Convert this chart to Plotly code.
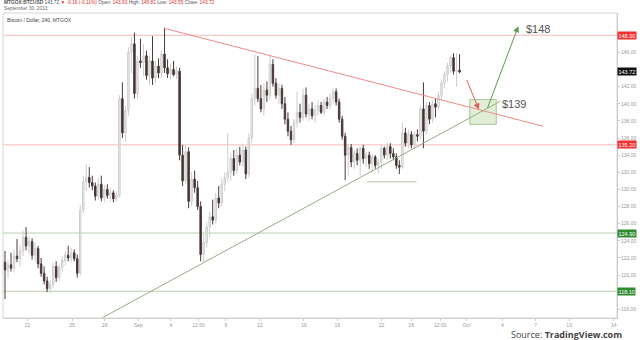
import plotly.graph_objects as go

# ---- data (4H candles, MTGOX BTCUSD) ----
opens = [121.5,120.6,121.2,120.8,122.2,121.9,122.8,124.4,123.4,123.9,122.3,123.1,121.3,120.2,119.3,118.4,118.9,121.0,119.7,120.9,
         121.7,122.3,122.0,122.6,121.9,120.2,127.6,130.9,131.4,130.8,130.4,129.2,130.6,129.0,130.0,129.3,129.6,128.9,129.3,140.6,
         136.6,139.2,146.0,147.0,141.2,145.0,144.8,145.6,143.3,145.0,143.0,144.4,143.6,145.8,144.2,143.5,144.0,143.4,143.8,134.0,
         131.0,134.4,128.6,131.2,130.2,128.0,122.4,123.8,125.6,126.8,126.4,129.0,128.4,130.6,131.4,132.0,133.6,132.2,134.0,133.2,
         134.6,131.8,136.0,140.6,141.8,140.6,139.4,141.6,141.0,144.6,142.4,141.0,141.8,140.0,138.2,136.8,135.8,137.8,139.0,138.4,
         141.0,138.8,139.4,138.6,139.2,139.8,139.0,140.2,139.8,140.6,141.4,140.2,138.2,136.2,134.0,134.9,133.2,134.2,133.4,134.8,
         133.6,134.0,133.0,133.8,132.8,133.2,134.8,134.0,135.0,134.2,133.8,132.8,132.6,136.6,135.4,136.4,135.2,136.4,136.2,139.4,
         136.8,139.8,138.2,140.0,139.6,141.0,142.4,143.4,144.4,145.4,143.8,143.93]
highs = [122.8,121.8,122.6,123.0,124.2,123.4,125.2,125.6,124.6,124.3,123.8,123.4,122.0,121.0,119.8,119.4,121.4,121.6,121.3,122.2,
         122.8,123.4,123.2,123.0,122.4,128.2,131.6,133.0,132.6,131.6,130.8,131.4,131.6,130.5,130.6,130.2,129.9,129.8,141.0,142.5,
         139.8,146.6,147.8,148.3,145.6,147.6,147.0,146.2,145.6,147.9,145.0,145.3,146.2,148.9,145.2,144.6,145.0,144.4,144.2,135.2,
         135.2,134.9,132.0,132.2,131.0,128.6,124.8,126.2,127.4,128.8,129.6,130.4,131.2,132.0,136.6,134.2,134.6,134.8,135.0,135.2,
         135.0,136.6,141.2,145.8,145.6,142.2,142.4,142.6,145.7,145.2,143.0,142.4,142.2,140.8,139.0,137.4,138.2,141.4,140.0,141.8,
         141.9,140.0,140.2,139.8,140.4,140.2,140.6,140.8,141.2,141.8,141.8,140.6,138.6,136.6,135.2,135.3,134.6,134.8,135.0,135.2,
         134.4,134.4,134.2,134.0,133.6,135.2,135.0,135.4,135.4,134.8,134.2,133.4,137.8,137.2,137.0,136.8,136.8,137.0,139.8,142.5,
         140.2,140.2,140.4,140.6,141.4,142.8,143.8,144.8,145.6,145.9,145.9,145.81]
lows = [117.2,119.6,120.4,120.3,121.5,121.0,122.2,122.9,122.5,121.8,121.5,120.8,119.8,118.9,118.0,117.9,118.5,119.2,119.3,120.4,
        121.1,121.6,121.5,121.6,119.7,119.9,127.2,129.8,130.2,129.9,128.7,128.8,128.6,128.5,128.9,128.6,128.5,128.6,129.0,136.0,
        135.6,138.6,143.6,140.6,140.6,144.2,143.2,142.8,142.2,142.2,142.4,143.0,143.0,143.6,143.0,142.8,143.2,142.9,133.4,130.4,
        130.6,127.8,128.0,129.6,127.6,121.6,121.4,123.2,124.4,125.9,126.0,127.8,128.0,129.8,130.8,131.0,131.6,131.8,132.8,132.6,
        131.2,131.4,135.4,139.8,140.2,139.0,138.6,140.2,140.4,142.0,140.6,140.0,139.4,137.6,136.2,135.2,135.4,137.2,137.8,138.0,
        138.4,138.0,138.2,137.8,138.6,138.8,138.6,139.4,139.4,139.9,139.8,137.8,135.8,131.1,131.6,132.6,132.4,132.8,131.6,133.0,
        132.6,132.4,132.0,132.4,131.8,132.4,133.6,133.4,133.6,133.4,132.4,131.8,132.4,135.0,134.8,134.8,134.8,135.6,135.8,134.8,
        136.4,137.6,137.8,138.4,139.2,140.4,141.8,142.6,143.6,143.4,142.0,143.55]
closes = [120.6,121.2,120.8,122.2,121.9,122.8,124.4,123.4,123.9,122.3,123.1,121.3,120.2,119.3,118.4,118.9,121.0,119.7,120.9,121.7,
          122.3,122.0,122.6,121.9,120.2,127.6,130.9,131.4,130.8,130.4,129.2,130.6,129.0,130.0,129.3,129.6,128.9,129.3,140.6,136.6,
          139.2,146.0,147.0,141.2,145.0,144.8,145.6,143.3,145.0,143.0,144.4,143.6,145.8,144.2,143.5,144.0,143.4,143.8,134.0,131.0,
          134.4,128.6,131.2,130.2,128.0,122.4,123.8,125.6,126.8,126.4,129.0,128.4,130.6,131.4,132.0,133.6,132.2,134.0,133.2,134.6,
          131.8,136.0,140.6,141.8,140.6,139.4,141.6,141.0,144.6,142.4,141.0,141.8,140.0,138.2,136.8,135.8,137.8,139.0,138.4,141.0,
          138.8,139.4,138.6,139.2,139.8,139.0,140.2,139.8,140.6,141.4,140.2,138.2,136.2,134.0,134.9,133.2,134.2,133.4,134.8,133.6,
          134.0,133.0,133.8,132.8,133.2,134.8,134.0,135.0,134.2,133.8,132.8,132.6,136.6,135.4,136.4,135.2,136.4,136.2,139.4,136.8,
          139.8,138.2,140.0,139.6,141.0,142.4,143.4,144.4,145.4,143.8,143.9,143.72]
bars = list(range(len(closes)))

x_tick_pos = [7.5, 22.3, 33.1, 44.3, 55.1, 64.3, 73.4, 84.6, 99.3, 110.4, 125.1, 135.0, 144.6, 153.3, 165.2, 176.3, 187.4, 202.2]
x_tick_text = ["22", "25", "28", "Sep", "4", "12:00", "9", "12", "16", "19", "22", "26", "12:00", "Oct", "4", "7", "10", "14"]
y_ticks = [116, 120, 122, 124, 126, 128, 130, 132, 134, 136, 138, 140, 142, 146]

red_levels = [148.0, 135.2]
green_levels = [124.9, 118.1]
last_price = 143.72

res_line = [(52.8, 148.82), (178.7, 137.38)]
sup_line = [(32.2, 114.98), (164.6, 140.3)]
base_line = [(120.3, 130.88), (136.7, 130.88)]
target_box = [(154.4, 137.6), (163.2, 140.5)]
red_arrow = [(153.2, 142.95), (157.4, 139.33)]
green_arrow = [(160.1, 139.33), (170.5, 149.05)]
targets = [("$148", 172.4, 148.75), ("$139", 164.5, 139.95)]

FONT = "Liberation Sans"

fig = go.Figure()
fig.add_trace(go.Candlestick(
    x=bars, open=opens, high=highs, low=lows, close=closes,
    increasing=dict(line=dict(color="#cdcdcd", width=1), fillcolor="#f0f0f0"),
    decreasing=dict(line=dict(color="#4a3a3a", width=1), fillcolor="#3e2e2e"),
    whiskerwidth=0, hoverinfo="skip"))

shapes = []
for lv in red_levels:
    shapes.append(dict(type="line", xref="paper", x0=0, x1=1, yref="y", y0=lv, y1=lv,
                       line=dict(color="#f6b9b9", width=1), layer="below"))
for lv in green_levels:
    shapes.append(dict(type="line", xref="paper", x0=0, x1=1, yref="y", y0=lv, y1=lv,
                       line=dict(color="#b9cfaa", width=1), layer="below"))
shapes.append(dict(type="line", x0=res_line[0][0], y0=res_line[0][1], x1=res_line[1][0], y1=res_line[1][1],
                   line=dict(color="#f08a8a", width=1)))
shapes.append(dict(type="line", x0=sup_line[0][0], y0=sup_line[0][1], x1=sup_line[1][0], y1=sup_line[1][1],
                   line=dict(color="#95ab85", width=1)))
shapes.append(dict(type="line", x0=base_line[0][0], y0=base_line[0][1], x1=base_line[1][0], y1=base_line[1][1],
                   line=dict(color="#b7c4ad", width=1)))
shapes.append(dict(type="rect", x0=target_box[0][0], y0=target_box[0][1], x1=target_box[1][0], y1=target_box[1][1],
                   line=dict(color="#a9c99a", width=1), fillcolor="rgba(196,224,178,0.55)", layer="below"))
shapes.append(dict(type="rect", xref="paper", yref="paper", x0=0, x1=1, y0=0, y1=1,
                   line=dict(color="#d6d6d6", width=1)))

ann = []
ann.append(dict(x=red_arrow[1][0], y=red_arrow[1][1], ax=red_arrow[0][0], ay=red_arrow[0][1],
                axref="x", ayref="y", text="", showarrow=True, arrowhead=2, arrowsize=1.2,
                arrowwidth=1, arrowcolor="#ee5a5a"))
ann.append(dict(x=green_arrow[1][0], y=green_arrow[1][1], ax=green_arrow[0][0], ay=green_arrow[0][1],
                axref="x", ayref="y", text="", showarrow=True, arrowhead=2, arrowsize=1.2,
                arrowwidth=1, arrowcolor="#5e9a4c"))
for t, tx, ty in targets:
    ann.append(dict(x=tx, y=ty, text=t, showarrow=False, xanchor="left", yanchor="middle",
                    font=dict(family=FONT, size=11, color="#555555")))

def price_tag(val, bg, txt):
    return dict(xref="paper", x=1, y=val, yref="y", text=txt, showarrow=False, xanchor="left",
                yanchor="middle", xshift=0, bgcolor=bg, borderpad=0.5,
                font=dict(family=FONT, size=5.5, color="white"))

ann.append(price_tag(red_levels[0], "#f23030", "148.00"))
ann.append(price_tag(red_levels[1], "#f23030", "135.20"))
ann.append(price_tag(last_price, "#111111", "143.72"))
ann.append(price_tag(green_levels[0], "#2e8b2e", "124.90"))
ann.append(price_tag(green_levels[1], "#2e8b2e", "118.10"))

ann.append(dict(xref="paper", yref="paper", x=0, y=1, xanchor="left", yanchor="bottom", yshift=6, xshift=-1,
                showarrow=False,
                text="<b>MTGOX:BTCUSD</b> 143.72 <span style='color:#e03030'>▼ -0.16 (-0.11%)</span> "
                     "Open: <span style='color:#e03030'>143.93</span> High: <span style='color:#e03030'>145.81</span> "
                     "Low: <span style='color:#e03030'>143.55</span> Close: <span style='color:#e03030'>143.72</span>",
                font=dict(family=FONT, size=4.8, color="#555555")))
ann.append(dict(xref="paper", yref="paper", x=0, y=1, xanchor="left", yanchor="bottom", yshift=0, xshift=-1,
                showarrow=False, text="September 30, 2013",
                font=dict(family=FONT, size=4.8, color="#666666")))
ann.append(dict(xref="paper", yref="paper", x=0, y=1, xanchor="left", yanchor="top", yshift=-2, xshift=2,
                showarrow=False, text="Bitcoin / Dollar, 240, MTGOX",
                font=dict(family=FONT, size=5, color="#444444")))
ann.append(dict(xref="paper", yref="paper", x=1, y=0, xanchor="right", yanchor="top", yshift=-7.5, xshift=7,
                showarrow=False, text="Source: <b>TradingView.com</b>",
                font=dict(family="Open Sans", size=9, color="#444444")))

fig.update_layout(
    width=640, height=340, margin=dict(l=3, r=14, t=13, b=22),
    paper_bgcolor="white", plot_bgcolor="white", showlegend=False,
    shapes=shapes, annotations=ann,
    xaxis=dict(range=[-0.66, 203.3], rangeslider=dict(visible=False), showgrid=False, zeroline=False,
               tickvals=x_tick_pos, ticktext=x_tick_text, ticks="outside", ticklen=2, tickcolor="#cccccc",
               tickfont=dict(family=FONT, size=5, color="#999999"), showline=True, linecolor="#c8c8c8"),
    yaxis=dict(range=[114.98, 150.6], side="right", showgrid=False, zeroline=False,
               tickvals=y_ticks, tickformat=".2f", ticks="outside", ticklen=2, tickcolor="#cccccc",
               tickfont=dict(family=FONT, size=5, color="#999999"), showline=True, linecolor="#c0c0c0"),
)

fig.write_html("out.html")
